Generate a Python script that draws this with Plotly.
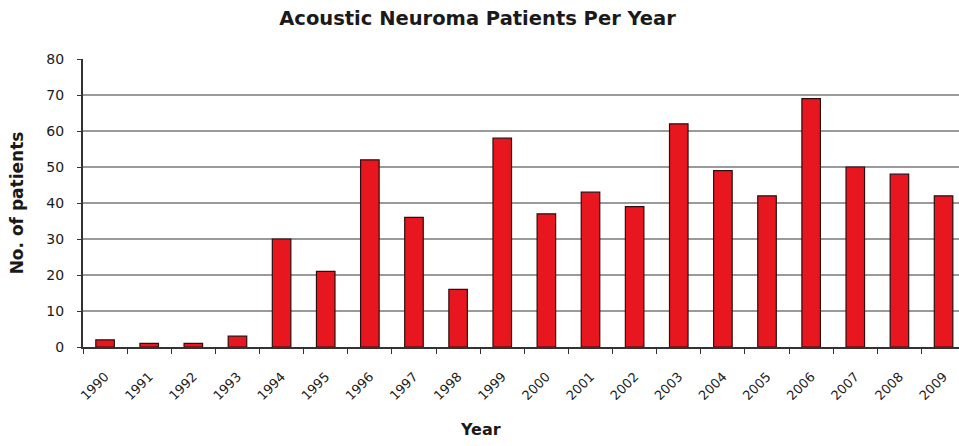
import plotly.graph_objects as go

years = [str(y) for y in range(1990, 2010)]
patients = [2, 1, 1, 3, 30, 21, 52, 36, 16, 58, 37, 43, 39, 62, 49, 42, 69, 50, 48, 42]
y_ticks = [0, 10, 20, 30, 40, 50, 60, 70, 80]

fig = go.Figure()

fig.add_trace(go.Bar(x=years,
                     y=patients,
                     width=0.42,
                     marker=dict(color='#e8161e',
                                 line=dict(color='#2a1010', width=1.2))))

fig.update_layout(width=959,
                  height=446,
                  margin=dict(l=83, r=0, t=59, b=99, autoexpand=False),
                  paper_bgcolor='white',
                  plot_bgcolor='white',
                  showlegend=False,
                  font=dict(family='DejaVu Sans, sans-serif', color='#1a1a1a'),
                  title=dict(text='<b>Acoustic Neuroma Patients Per Year</b>',
                             x=0.498, xanchor='center', xref='container',
                             y=0.96, yanchor='middle',
                             font=dict(size=19.5)))

# x axis title sits left of the plot centre in the original
fig.add_annotation(text='<b>Year</b>',
                   xref='paper', yref='paper',
                   x=0.454, y=-0.285,
                   xanchor='center', yanchor='middle',
                   showarrow=False,
                   font=dict(size=16))

fig.update_xaxes(type='category',
                 range=[-0.5, 19.35],
                 automargin=False,
                 tickangle=-45,
                 tickfont=dict(size=13),
                 ticks='outside',
                 tickson='boundaries',
                 ticklen=5,
                 ticklabelstandoff=15,
                 tickcolor='#333',
                 showline=True,
                 linecolor='#333',
                 linewidth=2,
                 showgrid=False)

fig.update_yaxes(range=[0, 80],
                 automargin=False,
                 tickvals=y_ticks,
                 tickfont=dict(size=14),
                 ticks='outside',
                 ticklen=4,
                 ticklabelstandoff=10,
                 tickcolor='#333',
                 showline=True,
                 linecolor='#333',
                 linewidth=2,
                 showgrid=True,
                 gridcolor='#9a9a9a',
                 gridwidth=1.5,
                 zeroline=False,
                 title=dict(text='<b>No. of patients</b>', font=dict(size=17), standoff=18))

# drop the page's default body margin so the figure fills the window
fig.write_html("out.html",
               config={'displayModeBar': False},
               post_script="document.body.style.margin='0';document.body.style.overflow='hidden';")
